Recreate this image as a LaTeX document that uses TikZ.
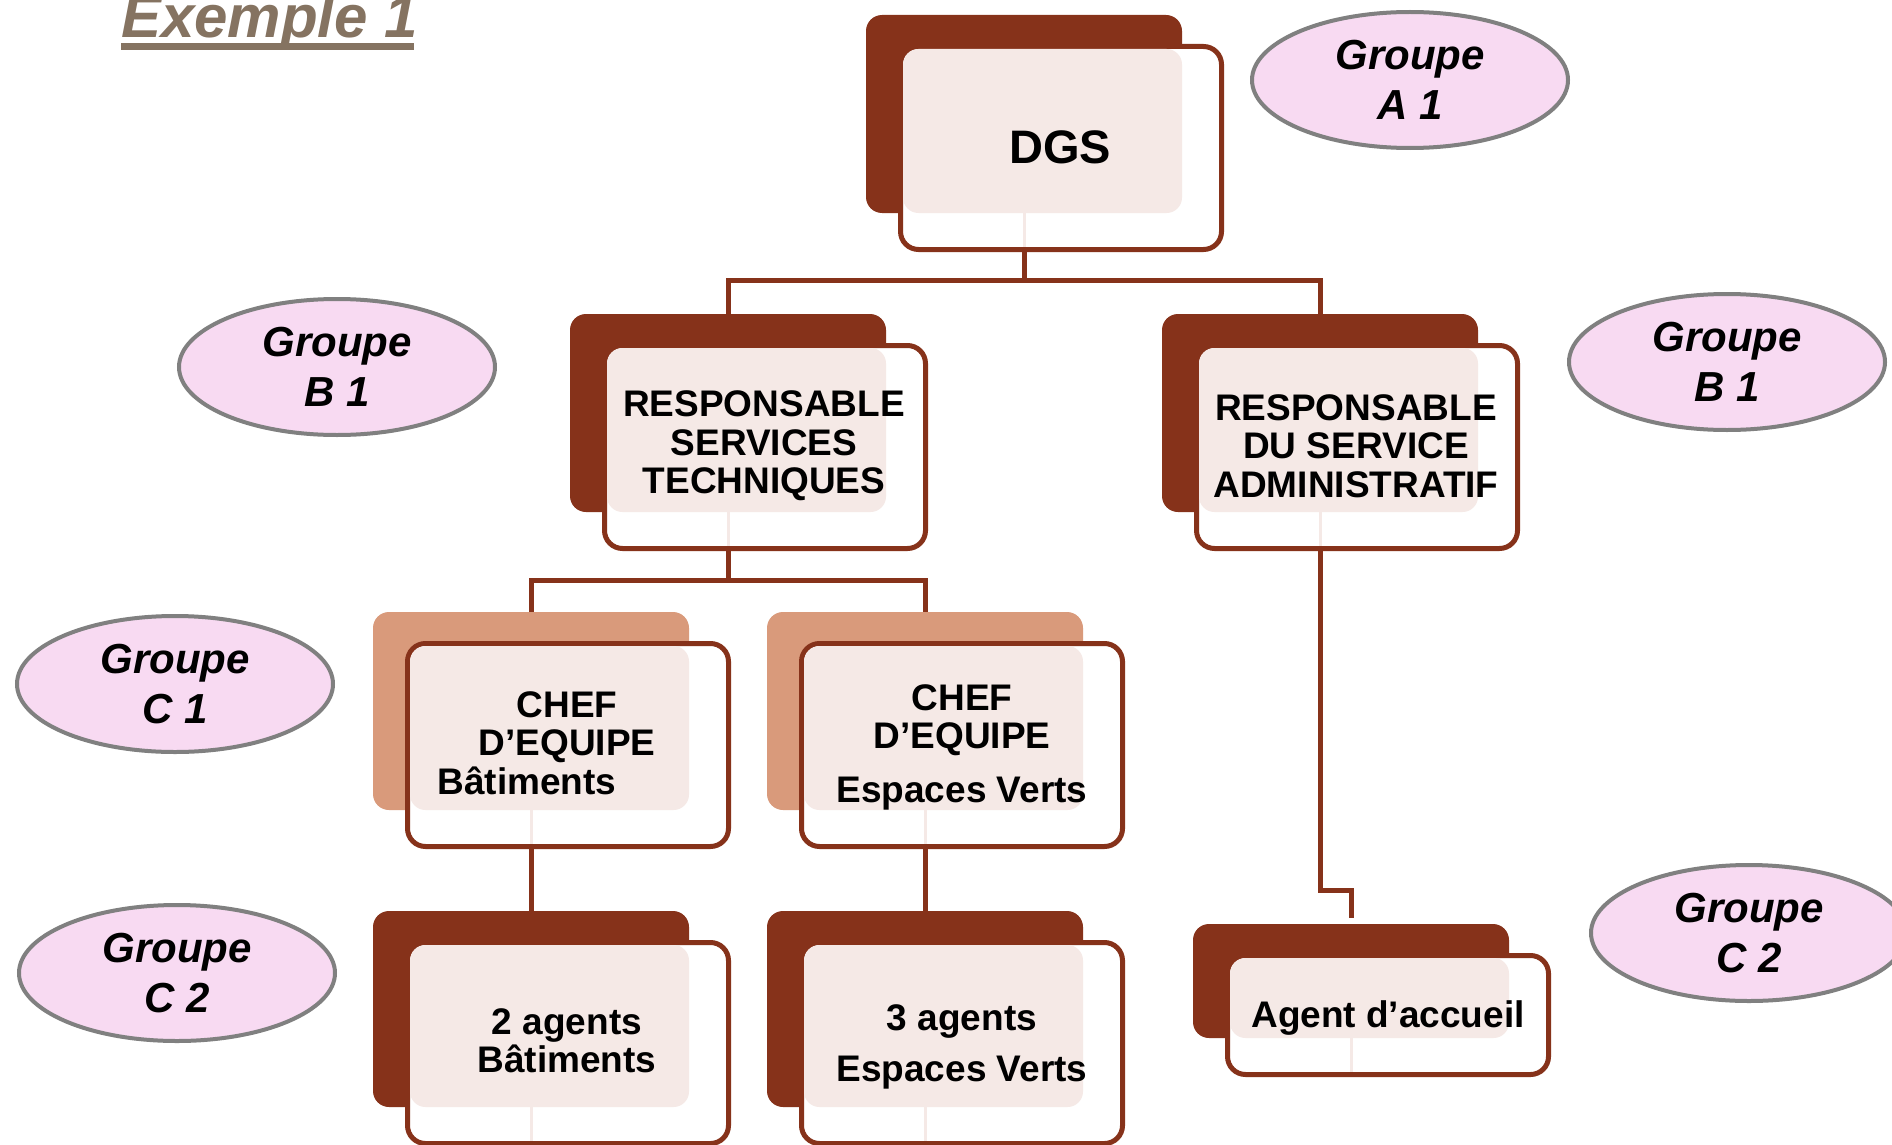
\documentclass[tikz,border=0pt]{standalone}
\usepackage{fontspec}
\setmainfont{Liberation Sans}
\usetikzlibrary{shapes.geometric,calc}
\definecolor{brn}{HTML}{86321A}
\definecolor{salm}{HTML}{D99A7B}
\definecolor{patf}{HTML}{F5E9E6}
\definecolor{pinkf}{HTML}{F8DAF2}
\definecolor{grayb}{HTML}{808080}
\definecolor{titc}{HTML}{857361}
\tikzset{
 backbox/.style={rectangle, rounded corners=16pt, inner sep=0pt, outer sep=0pt, minimum width=316pt},
 frontbox/.style={rectangle, draw=brn, line width=5pt, fill=white, rounded corners=18pt, inner sep=0pt, outer sep=0pt, minimum width=321pt},
 conn/.style={draw=brn, line width=5pt},
 grp/.style={ellipse, draw=grayb, line width=4pt, fill=pinkf, minimum width=316pt, minimum height=136pt, inner sep=0pt, outer sep=0pt, align=center, font=\fontsize{42pt}{50pt}\selectfont\bfseries\itshape},
 lbl/.style={inner sep=0pt, align=center, font=\fontsize{37pt}{38.5pt}\selectfont\bfseries},
}
\newcommand\orgpair[5]{%
 \node[backbox, fill=#5, minimum height=#4pt, anchor=north west] (#1-back) at (#2,#3) {};
 \node[frontbox, minimum height={#4pt+5pt}, anchor=north west] (#1) at ({#2+34.5},{#3+31.5}) {};
 \fill[patf, rounded corners=15.5pt] ({#2+37},{#3+34}) rectangle ({#2+316},{#3+#4});
 \fill[patf] ({#2+156.5},{#3+#4}) rectangle ({#2+159.5},{#3+#4+34});
}
\begin{document}
\begin{tikzpicture}[x=1pt,y=-1pt]
\useasboundingbox (0,0) rectangle (1892,1145);
\clip (0,0) rectangle (1892,1145);
% title
\node[anchor=base west, inner sep=0pt, text=titc, font=\fontsize{60pt}{64pt}\selectfont\bfseries\itshape] (title) at (121,38) {Exemple 1};
\fill[titc] (121,43) rectangle (414,50);
% boxes
\orgpair{dgs}{866}{15}{198}{brn}
\orgpair{rst}{570}{314}{198}{brn}
\orgpair{rsa}{1162}{314}{198}{brn}
\orgpair{cb}{373}{612}{198}{salm}
\orgpair{cev}{767}{612}{198}{salm}
\orgpair{ab}{373}{911}{196}{brn}
\orgpair{aev}{767}{911}{196}{brn}
\orgpair{acc}{1193}{924}{114}{brn}
% labels
\node[lbl, anchor=base, font=\fontsize{47pt}{50pt}\selectfont\bfseries] (dgs-t) at (1060,163) {DGS};
\node[lbl] (rst-t) at (764,446) {RESPONSABLE\\SERVICES\\TECHNIQUES};
\node[lbl] (rsa-t) at (1356,446) {RESPONSABLE\\DU SERVICE\\ADMINISTRATIF};
\node[lbl] (cb-t) at (567,743) {CHEF\\D’EQUIPE\\Bâtiments\rule{80pt}{0pt}};
\node[lbl] (cev-t) at (962,747) {CHEF\\D’EQUIPE\\[15pt]Espaces Verts};
\node[lbl] (ab-t) at (567,1041) {2 agents\\Bâtiments};
\node[lbl] (aev-t) at (962,1047) {3 agents\\[13pt]Espaces Verts};
\node[lbl, anchor=base] (acc-t) at (1388,1027) {Agent d’accueil};
% connectors
\coordinate (j1) at (1024,280);
\draw[conn] (dgs.south -| j1) -- (j1);
\draw[conn] (rst-back.north) |- (j1) -| (rsa-back.north);
\coordinate (j2) at (728,580);
\draw[conn] (rst.south -| j2) -- (j2);
\draw[conn] (cb-back.north) |- (j2) -| (cev-back.north);
\draw[conn] (cb.south -| cb-back.north) -- (ab-back.north);
\draw[conn] (cev.south -| cev-back.north) -- (aev-back.north);
\path (rsa-back.north) ++(0,576) coordinate (k1);
\draw[conn, shorten >=6pt] (rsa.south -| k1) -- (k1) -| (acc-back.north);
% groups
\node[grp] (ga1) at (1410,80) {Groupe\\A 1};
\node[grp] (gb1l) at (337,367) {Groupe\\B 1};
\node[grp] (gb1r) at (1727,362) {Groupe\\B 1};
\node[grp] (gc1) at (175,684) {Groupe\\C 1};
\node[grp] (gc2l) at (177,973) {Groupe\\C 2};
\node[grp] (gc2r) at (1749,933) {Groupe\\C 2};
\end{tikzpicture}
\end{document}
